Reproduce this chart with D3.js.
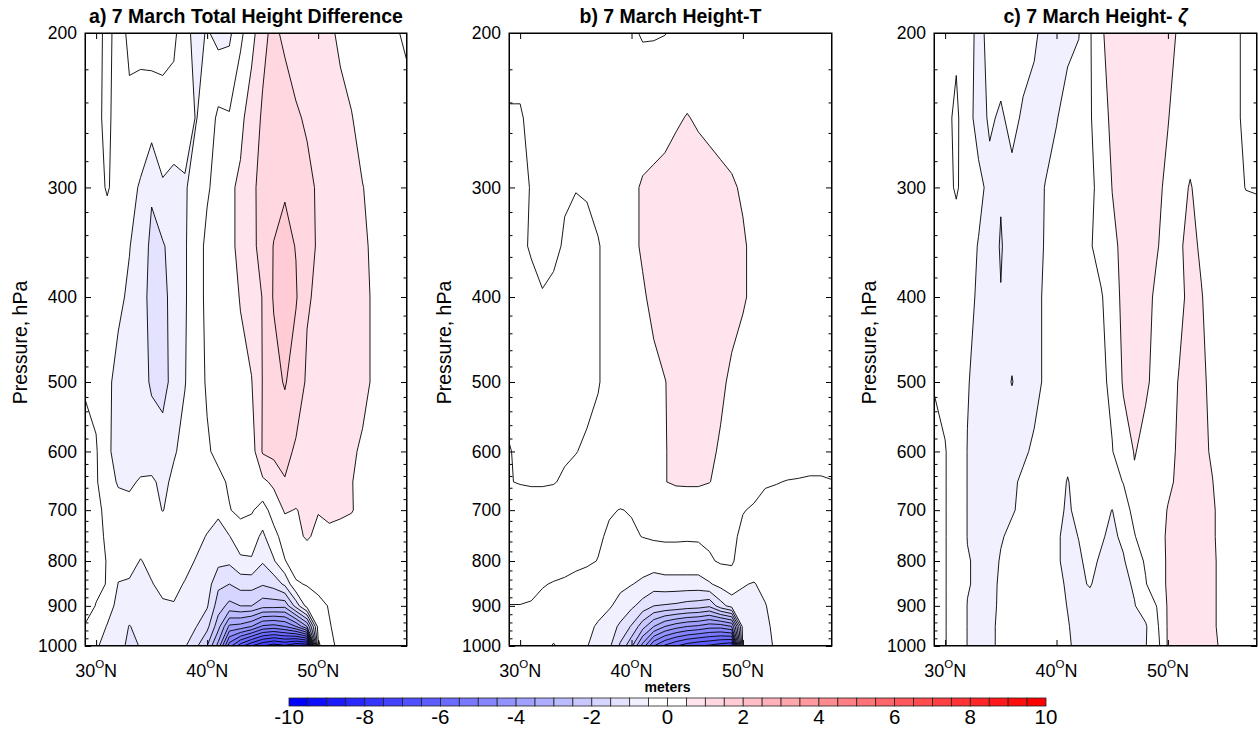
<!DOCTYPE html>
<html>
<head>
<meta charset="utf-8">
<script src="https://cdn.jsdelivr.net/npm/d3@7"></script>
<style>
  body { margin: 0; background: #fff; }
  text { font-family: "Liberation Sans", Arial, Helvetica, sans-serif; fill: #000; }
</style>
</head>
<body>
<svg width="1258" height="730"></svg>
<script>
// grid: latitude columns, pressure rows (1000 hPa first)
var lats = [29, 30, 31, 32, 33, 34, 35, 36, 37, 38, 39, 40, 41, 42, 43, 44, 45, 46, 47, 48, 49, 50, 51, 52, 53, 54, 55, 56, 57, 58];
var levels = [1000, 950, 900, 850, 800, 750, 700, 650, 600, 500, 400, 350, 300, 250, 200];

// a) total height difference (m)
var totalDiff = [
  [-0.35,-0.45,-0.65,-0.85,-1.1,-0.98,-0.8,-0.75,-0.75,-0.95, -1.4,-2.0,-3.2,-5.3,-6.3,-7.0,-7.5,-7.8,-7.6,-8.0, -8.0,-0.6,-0.1,0.1,0.15,0.2,0.2,0.2,0.2,0.2],
  [-0.03,-0.3,-0.52,-0.75,-1.02,-0.85,-0.75,-0.7,-0.7,-0.8, -0.98,-1.35,-2.3,-3.6,-3.7,-4.0,-4.6,-4.7,-4.5,-4.0, -3.0,-0.3,-0.02,0.1,0.15,0.2,0.2,0.2,0.2,0.2],
  [0.2,-0.02,-0.35,-0.6,-0.75,-0.7,-0.65,-0.55,-0.52,-0.65, -0.8,-0.95,-1.75,-2.15,-2.0,-2.0,-2.3,-2.3,-2.35,-1.3, -0.3,-0.1,0.02,0.15,0.2,0.2,0.2,0.2,0.2,0.2],
  [0.3,0.1,-0.02,-0.52,-0.55,-0.6,-0.52,-0.4,-0.42,-0.52, -0.65,-0.75,-1.4,-1.5,-1.3,-1.3,-1.45,-1.3,-0.9,-0.05, 0.03,0.1,0.15,0.2,0.2,0.25,0.25,0.25,0.2,0.2],
  [0.3,0.15,-0.02,-0.3,-0.35,-0.52,-0.4,-0.35,-0.35,-0.4, -0.52,-0.6,-0.85,-0.9,-0.6,-0.55,-0.95,-0.55,-0.02,0.2, 0.25,0.3,0.3,0.3,0.3,0.3,0.25,0.25,0.2,0.2],
  [0.25,0.1,-0.05,-0.2,-0.25,-0.3,-0.3,-0.3,-0.3,-0.35, -0.4,-0.52,-0.6,-0.52,-0.2,-0.28,-0.6,-0.15,0.2,0.4, 0.55,0.4,0.45,0.4,0.35,0.3,0.25,0.2,0.2,0.15],
  [0.2,0.1,-0.1,-0.3,-0.35,-0.35,-0.4,-0.51,-0.4,-0.35, -0.3,-0.35,-0.45,-0.02,0.1,0.05,-0.19,0.2,0.55,0.48, 0.6,0.52,0.55,0.55,0.52,0.4,0.3,0.25,0.2,0.15],
  [0.2,0.05,-0.3,-0.55,-0.58,-0.45,-0.42,-0.62,-0.4,-0.3, -0.25,-0.2,-0.1,0.05,0.15,0.25,0.4,0.6,0.98,0.8, 0.7,0.65,0.6,0.55,0.52,0.35,0.3,0.25,0.2,0.15],
  [0.15,0.05,-0.45,-0.6,-0.7,-0.75,-0.8,-0.75,-0.55,-0.35, -0.2,-0.05,0.1,0.2,0.2,0.25,1.05,1.15,1.1,0.95, 0.8,0.75,0.7,0.65,0.55,0.45,0.35,0.3,0.25,0.2],
  [-0.05,-0.15,-0.4,-0.65,-0.75,-0.85,-1.05,-1.2,-0.8,-0.52, -0.2,0.05,0.2,0.3,0.4,0.48,1.02,1.3,1.55,1.2, 0.95,0.85,0.8,0.75,0.7,0.6,0.45,0.35,0.3,0.25],
  [-0.2,-0.25,-0.3,-0.4,-0.58,-0.8,-1.15,-1.15,-0.8,-0.55, -0.2,0.1,0.2,0.35,0.52,0.75,1.02,1.55,1.8,1.55, 1.03,0.95,0.85,0.8,0.7,0.6,0.45,0.35,0.3,0.25],
  [-0.2,-0.25,-0.3,-0.4,-0.48,-0.75,-1.1,-1.05,-0.8,-0.55, -0.2,0.1,0.25,0.4,0.6,0.85,1.2,1.52,1.65,1.48, 1.15,0.95,0.85,0.75,0.65,0.55,0.45,0.35,0.3,0.25],
  [-0.2,-0.2,0.05,-0.2,-0.35,-0.55,-0.95,-0.55,-0.65,-0.55, -0.3,-0.05,0.15,0.4,0.6,0.9,1.15,1.3,1.45,1.3, 1.1,0.95,0.85,0.75,0.6,0.51,0.4,0.3,0.25,0.2],
  [-0.3,-0.1,0.1,-0.2,-0.1,-0.2,-0.25,-0.2,-0.2,-0.3, -0.52,-0.3,0.1,0.05,0.35,0.8,1.05,1.2,1.25,1.05, 0.95,0.9,0.8,0.65,0.52,0.35,0.3,0.25,0.2,0.2],
  [-0.3,-0.2,0.15,-0.2,0.1,0.15,0.2,0.2,0.1,-0.3, -0.7,-0.45,-0.65,-0.6,-0.1,0.3,0.9,1.1,0.9,0.8, 0.75,0.7,0.6,0.4,0.3,0.25,0.2,0.15,0.05,-0.1]
];

// b) height-T part (m)
var heightT = [
  [-0.2,-0.2,-0.2,-0.3,-0.55,-0.3,-0.4,-0.48,-0.7,-0.9, -1.6,-2.4,-3.7,-5.0,-5.6,-6.0,-6.3,-6.5,-6.6,-6.8, -7.0,-0.9,-0.75,-0.6,-0.45,-0.3,-0.3,-0.3,-0.3,-0.3],
  [-0.1,-0.1,-0.1,-0.15,-0.2,-0.2,-0.3,-0.4,-0.55,-0.75, -1.1,-1.55,-2.3,-3.0,-3.5,-3.8,-4.0,-4.1,-4.3,-4.3, -4.0,-0.8,-0.7,-0.58,-0.4,-0.3,-0.3,-0.3,-0.3,-0.3],
  [-0.01,-0.01,-0.03,-0.08,-0.12,-0.15,-0.2,-0.25,-0.35,-0.45, -0.65,-0.9,-1.2,-1.5,-1.55,-1.6,-1.7,-1.75,-1.9,-1.2, -0.8,-0.6,-0.6,-0.52,-0.35,-0.3,-0.3,-0.3,-0.3,-0.3],
  [0.15,0.15,0.1,0.02,-0.02,-0.05,-0.1,-0.15,-0.2,-0.3, -0.4,-0.48,-0.6,-0.75,-0.7,-0.7,-0.7,-0.7,-0.55,-0.35, -0.2,-0.48,-0.52,-0.4,-0.3,-0.25,-0.25,-0.25,-0.25,-0.25],
  [0.25,0.25,0.2,0.18,0.15,0.12,0.08,0.05,-0.01,-0.1, -0.15,-0.2,-0.25,-0.25,-0.2,-0.2,-0.2,-0.2,-0.05,0.05, 0.05,-0.2,-0.3,-0.3,-0.25,-0.25,-0.25,-0.25,-0.25,-0.25],
  [0.3,0.3,0.25,0.22,0.2,0.18,0.15,0.1,0.05,-0.05, -0.1,-0.05,0.01,0.05,0.06,0.06,0.05,0.06,0.08,0.1, 0.1,-0.1,-0.2,-0.2,-0.2,-0.2,-0.2,-0.2,-0.2,-0.2],
  [0.3,0.3,0.25,0.25,0.2,0.2,0.15,0.1,0.08,0.03, -0.01,0.02,0.1,0.15,0.2,0.2,0.2,0.2,0.2,0.15, 0.1,0.02,-0.05,-0.1,-0.1,-0.1,-0.1,-0.1,-0.1,-0.1],
  [0.02,-0.03,-0.05,-0.05,-0.02,0.05,0.1,0.1,0.15,0.2, 0.2,0.25,0.3,0.4,0.49,0.55,0.56,0.56,0.51,0.4, 0.3,0.25,0.15,0.03,0.01,-0.01,-0.02,-0.03,-0.03,-0.01],
  [0.03,-0.1,-0.15,-0.15,-0.1,-0.05,-0.01,0.05,0.1,0.15, 0.2,0.25,0.3,0.38,0.48,0.6,0.65,0.65,0.58,0.45, 0.35,0.3,0.25,0.2,0.2,0.15,0.15,0.12,0.12,0.12],
  [-0.2,-0.25,-0.25,-0.25,-0.2,-0.2,-0.15,-0.1,-0.02,0.1, 0.15,0.2,0.3,0.4,0.49,0.6,0.65,0.65,0.62,0.58, 0.42,0.3,0.25,0.2,0.2,0.15,0.15,0.15,0.15,0.15],
  [-0.2,-0.2,-0.15,-0.02,-0.1,-0.15,-0.15,-0.1,-0.02,0.1, 0.2,0.3,0.45,0.6,0.7,0.75,0.8,0.8,0.75,0.7, 0.65,0.55,0.4,0.3,0.25,0.25,0.2,0.2,0.2,0.15],
  [-0.15,-0.1,0.05,0.1,0.1,-0.05,-0.1,-0.15,-0.02,0.1, 0.2,0.4,0.55,0.65,0.7,0.75,0.8,0.75,0.7,0.65, 0.62,0.55,0.4,0.3,0.25,0.25,0.2,0.2,0.2,0.15],
  [-0.15,-0.1,0.02,0.1,0.1,0.05,0.01,0.05,0.1,0.15, 0.2,0.4,0.55,0.6,0.65,0.7,0.75,0.7,0.65,0.6, 0.55,0.45,0.35,0.3,0.25,0.25,0.2,0.2,0.2,0.15],
  [-0.02,-0.02,0.05,0.1,0.15,0.15,0.15,0.15,0.15,0.15, 0.2,0.2,0.25,0.3,0.35,0.45,0.52,0.45,0.4,0.35, 0.3,0.25,0.2,0.2,0.2,0.2,0.15,0.15,0.15,0.15],
  [0.1,0.1,0.15,0.15,0.15,0.15,0.15,0.15,0.15,0.1, 0.1,0.05,-0.03,-0.03,-0.01,0.05,0.15,0.15,0.15,0.15, 0.15,0.15,0.1,0.1,0.1,0.1,0.1,0.1,0.1,0.1]
];

// c) height-zeta part (m)
var heightZeta = [
  [0.1,0.02,-0.2,-0.51,-0.55,-0.55,-0.45,-0.35,-0.3,-0.3, -0.3,-0.35,-0.45,-0.6,-0.6,-0.65,-0.65,-0.62,-0.58,-0.52, -0.2,0.55,0.6,0.62,0.62,0.55,0.45,0.3,0.25,0.2],
  [0.1,0.02,-0.2,-0.51,-0.55,-0.55,-0.45,-0.35,-0.3,-0.3, -0.3,-0.4,-0.48,-0.6,-0.62,-0.65,-0.65,-0.62,-0.58,-0.55, -0.1,0.55,0.6,0.62,0.62,0.55,0.4,0.3,0.25,0.2],
  [0.1,0.02,-0.2,-0.51,-0.55,-0.58,-0.45,-0.35,-0.3,-0.3, -0.3,-0.4,-0.51,-0.6,-0.6,-0.65,-0.65,-0.62,-0.52,-0.3, 0.01,0.55,0.6,0.62,0.62,0.55,0.4,0.3,0.25,0.2],
  [0.1,0.02,-0.2,-0.48,-0.55,-0.6,-0.45,-0.35,-0.3,-0.3, -0.3,-0.4,-0.55,-0.55,-0.48,-0.6,-0.65,-0.6,-0.45,-0.03, 0.3,0.55,0.6,0.62,0.62,0.55,0.4,0.3,0.25,0.2],
  [0.1,0.02,-0.2,-0.48,-0.55,-0.6,-0.48,-0.4,-0.35,-0.3, -0.3,-0.45,-0.6,-0.55,-0.4,-0.55,-0.65,-0.55,-0.2,0.05, 0.3,0.55,0.6,0.62,0.62,0.55,0.4,0.3,0.25,0.2],
  [0.1,0.02,-0.2,-0.51,-0.6,-0.6,-0.52,-0.45,-0.4,-0.35, -0.35,-0.45,-0.6,-0.49,-0.3,-0.45,-0.6,-0.4,-0.02,0.2, 0.35,0.55,0.6,0.62,0.62,0.55,0.35,0.25,0.2,0.15],
  [0.1,0.02,-0.2,-0.51,-0.6,-0.6,-0.58,-0.52,-0.45,-0.4, -0.35,-0.4,-0.55,-0.4,-0.3,-0.35,-0.51,-0.15,0.1,0.2, 0.3,0.52,0.6,0.62,0.62,0.55,0.35,0.25,0.2,0.15],
  [0.1,0.02,-0.2,-0.51,-0.6,-0.6,-0.6,-0.55,-0.45,-0.35, -0.3,-0.35,-0.52,-0.35,-0.3,-0.2,-0.1,0.01,0.45,0.3, 0.3,0.42,0.58,0.62,0.62,0.51,0.3,0.25,0.2,0.15],
  [0.1,0.02,-0.2,-0.51,-0.6,-0.65,-0.65,-0.65,-0.55,-0.45, -0.4,-0.35,-0.4,-0.3,-0.25,-0.15,-0.02,0.3,0.52,0.4, 0.3,0.4,0.55,0.62,0.6,0.45,0.3,0.25,0.2,0.15],
  [-0.02,-0.1,-0.3,-0.48,-0.6,-0.7,-0.8,-1.02,-0.8,-0.6, -0.45,-0.35,-0.3,-0.25,-0.2,-0.1,0.1,0.55,0.6,0.55, 0.4,0.35,0.52,0.6,0.58,0.4,0.3,0.25,0.2,0.15],
  [-0.2,-0.2,-0.25,-0.4,-0.55,-0.7,-0.98,-0.75,-0.7,-0.6, -0.45,-0.4,-0.3,-0.25,-0.15,-0.05,0.3,0.6,0.62,0.58, 0.45,0.35,0.4,0.6,0.52,0.35,0.3,0.25,0.2,0.15],
  [-0.2,-0.2,-0.2,-0.35,-0.52,-0.7,-1.05,-0.7,-0.65,-0.6, -0.48,-0.35,-0.25,-0.2,-0.05,0.2,0.4,0.6,0.65,0.6, 0.52,0.4,0.45,0.6,0.45,0.35,0.3,0.25,0.2,0.15],
  [-0.2,-0.15,0.05,-0.2,-0.4,-0.6,-0.95,-0.6,-0.6,-0.6, -0.49,-0.35,-0.3,-0.2,-0.1,0.15,0.51,0.6,0.65,0.6, 0.55,0.45,0.4,0.52,0.4,0.3,0.2,0.1,-0.01,-0.02],
  [-0.2,-0.15,0.1,-0.35,-0.65,-0.45,-0.55,-0.4,-0.55,-0.6, -0.6,-0.52,-0.35,-0.25,-0.05,0.3,0.6,0.6,0.6,0.6, 0.55,0.51,0.4,0.35,0.3,0.25,0.2,0.05,-0.05,-0.1],
  [-0.2,-0.15,-0.1,-0.35,-0.6,-0.4,-0.3,-0.3,-0.35,-0.45, -0.6,-0.65,-0.6,-0.52,-0.05,0.45,0.65,0.6,0.65,0.65, 0.6,0.55,0.48,0.3,0.25,0.2,0.15,0.05,-0.05,-0.1]
];

var pressureTicks = [200, 300, 400, 500, 600, 700, 800, 900, 1000];
var latTicks = [30, 40, 50];
var barLabels = [-10, -8, -6, -4, -2, 0, 2, 4, 6, 8, 10];

// contour levels every 0.5 m
var thresholds = d3.range(-10, 10, 0.5);

function bandColor(t) {
  var k = Math.round((t + 10) / 0.5);
  if (k < 0) k = 0;
  if (k <= 18) { var c = Math.round(240 * k / 18); return d3.rgb(c, c, 255).toString(); }
  if (k <= 20) return "#ffffff";
  var s = Math.min(1, (k - 21) / 18);
  return d3.rgb(255, Math.round(228 * (1 - s)), Math.round(238 * (1 - s))).toString();
}

var svg = d3.select("svg");
var plotTop = 33, plotH = 613;
var path = d3.geoPath();
var defs = svg.append("defs");

var panels = [
  { left: 85, width: 322, data: totalDiff, title: "a) 7 March Total Height Difference" },
  { left: 509, width: 323, data: heightT, title: "b) 7 March Height-T" },
  { left: 934, width: 323, data: heightZeta, title: "c) 7 March Height- ", greek: "\u03B6" }
];

panels.forEach(function (p, i) {
  var g = svg.append("g").attr("transform", "translate(" + p.left + "," + plotTop + ")");
  var x = d3.scaleLinear().domain([29, 58]).range([0, p.width]);
  var y = d3.scaleLog().domain([1000, 200]).range([plotH, 0]);

  var nx = lats.length, ny = levels.length;
  var contours = d3.contours().size([nx, ny]).thresholds(thresholds)(p.data.flat());

  function gridX(c) {
    var v = Math.max(0, Math.min(nx - 1, c - 0.5));
    var j = Math.min(Math.floor(v), nx - 2);
    return x(lats[j] + (v - j) * (lats[j + 1] - lats[j]));
  }
  function gridY(c) {
    var v = Math.max(0, Math.min(ny - 1, c - 0.5));
    var j = Math.min(Math.floor(v), ny - 2);
    var y0 = y(levels[j]), y1 = y(levels[j + 1]);
    return y0 + (v - j) * (y1 - y0);
  }

  var shapes = contours.map(function (c) {
    return {
      type: "MultiPolygon",
      value: c.value,
      coordinates: c.coordinates.map(function (poly) {
        return poly.map(function (ring) {
          return ring.map(function (pt) { return [gridX(pt[0]), gridY(pt[1])]; });
        });
      })
    };
  });

  defs.append("clipPath").attr("id", "clip" + i)
    .append("rect").attr("width", p.width).attr("height", plotH);

  var plot = g.append("g").attr("clip-path", "url(#clip" + i + ")");
  plot.append("rect").attr("width", p.width).attr("height", plotH).attr("fill", bandColor(-10));

  plot.append("g").selectAll("path")
    .data(shapes)
    .join("path")
    .attr("d", path)
    .attr("fill", function (d) { return bandColor(d.value); });

  plot.append("g").selectAll("path")
    .data(shapes.filter(function (d) { return d.value > -10; }))
    .join("path")
    .attr("d", path)
    .attr("fill", "none")
    .attr("stroke", "#000")
    .attr("stroke-width", 0.9)
    .attr("stroke-linejoin", "round");

  // axes
  var minorP = d3.range(220, 1000, 20).filter(function (v) { return v % 100 !== 0; });

  g.append("g")
    .call(d3.axisLeft(y).tickValues(pressureTicks).tickFormat(d3.format("d")).tickSize(-6).tickPadding(8))
    .call(function (s) { s.select(".domain").remove(); })
    .attr("font-size", 17.5);
  g.append("g")
    .call(d3.axisLeft(y).tickValues(minorP).tickFormat("").tickSize(-3.5))
    .call(function (s) { s.select(".domain").remove(); });
  g.append("g").attr("transform", "translate(" + p.width + ",0)")
    .call(d3.axisRight(y).tickValues(pressureTicks).tickFormat("").tickSize(-6))
    .call(function (s) { s.select(".domain").remove(); });
  g.append("g").attr("transform", "translate(" + p.width + ",0)")
    .call(d3.axisRight(y).tickValues(minorP).tickFormat("").tickSize(-3.5))
    .call(function (s) { s.select(".domain").remove(); });
  g.append("g").attr("transform", "translate(0," + plotH + ")")
    .call(d3.axisBottom(x).tickValues(latTicks).tickFormat("").tickSize(-6))
    .call(function (s) { s.select(".domain").remove(); });
  g.append("g")
    .call(d3.axisTop(x).tickValues(latTicks).tickFormat("").tickSize(-6))
    .call(function (s) { s.select(".domain").remove(); });

  g.append("rect")
    .attr("width", p.width).attr("height", plotH)
    .attr("fill", "none").attr("stroke", "#000").attr("stroke-width", 1);

  // latitude labels with superscript degree
  g.selectAll(".latlab")
    .data(latTicks)
    .join("text")
    .attr("class", "latlab")
    .attr("x", function (d) { return x(d); })
    .attr("y", plotH + 31)
    .attr("text-anchor", "middle")
    .attr("font-size", 18)
    .each(function (d) {
      var t = d3.select(this);
      t.append("tspan").text(d);
      t.append("tspan").attr("font-size", 11.5).attr("dy", -9).text("O");
      t.append("tspan").attr("dy", 9).text("N");
    });

  // axis title
  g.append("text")
    .attr("transform", "translate(-65," + (plotH / 2 + 3) + ") rotate(-90)")
    .attr("dy", "0.35em")
    .attr("text-anchor", "middle")
    .attr("font-size", 19.5)
    .text("Pressure, hPa");

  // panel title
  var tt = svg.append("text")
    .attr("x", p.left + p.width / 2)
    .attr("y", 23)
    .attr("text-anchor", "middle")
    .attr("font-size", 19.5)
    .attr("font-weight", "bold")
    .text(p.title);
  if (p.greek) tt.append("tspan").attr("font-style", "italic").text(p.greek);
});

// colour bar
var barX = d3.scaleLinear().domain([-10, 10]).range([0, 757]);
var bar = svg.append("g").attr("transform", "translate(289,698)");

bar.selectAll("rect")
  .data(thresholds)
  .join("rect")
  .attr("x", function (d) { return barX(d); })
  .attr("width", function (d) { return barX(d + 0.5) - barX(d); })
  .attr("height", 8)
  .attr("fill", function (d) { return bandColor(d); })
  .attr("stroke", "#222")
  .attr("stroke-width", 0.8);

bar.selectAll(".blab")
  .data(barLabels)
  .join("text")
  .attr("class", "blab")
  .attr("x", function (d) { return barX(d); })
  .attr("y", 26)
  .attr("text-anchor", "middle")
  .attr("font-size", 20.5)
  .text(function (d) { return d; });

svg.append("text")
  .attr("x", 289 + barX(0))
  .attr("y", 692)
  .attr("text-anchor", "middle")
  .attr("font-size", 14)
  .attr("font-weight", "bold")
  .text("meters");
</script>
</body>
</html>
